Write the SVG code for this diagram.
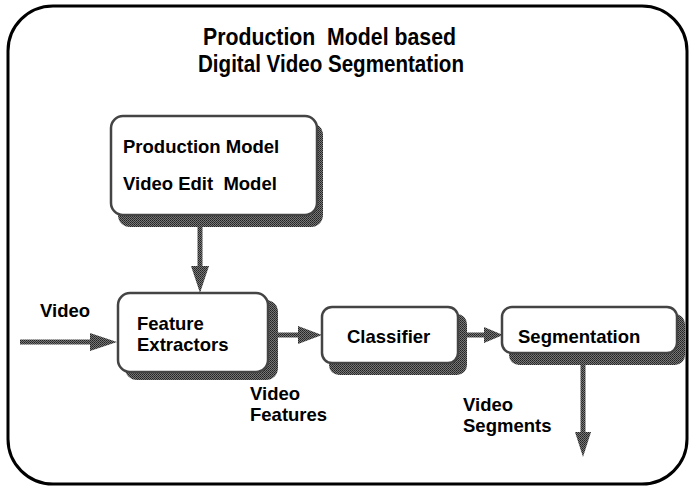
<svg xmlns="http://www.w3.org/2000/svg" width="693" height="490" viewBox="0 0 693 490">
  <style>
    text { font-family: "Liberation Sans", Arial, sans-serif; font-weight: bold; fill: #000; white-space: pre; }
    .title { font-size: 24px; }
    .lbl { font-size: 18.5px; }
    .box { fill: #fff; stroke: #444; stroke-width: 2.5; }
    .shadow { fill: url(#dither); }
    .wire { stroke: url(#dither); stroke-width: 5; fill: none; }
    .head { fill: url(#dither); }
  </style>
  <defs>
    <!-- halftone-like grey used for shadows and arrows -->
    <pattern id="dither" width="2" height="2" patternUnits="userSpaceOnUse">
      <rect width="2" height="2" fill="#777"/>
      <rect width="1" height="1" fill="#222"/>
      <rect x="1" y="1" width="1" height="1" fill="#333"/>
    </pattern>
  </defs>

  <!-- outer frame -->
  <rect x="8" y="6" width="679" height="478" rx="45" ry="45" fill="#fff" stroke="#000" stroke-width="3"/>

  <g id="title">
    <text class="title" x="203" y="45" textLength="253" lengthAdjust="spacingAndGlyphs">Production  Model based</text>
    <text class="title" x="198" y="72" textLength="266" lengthAdjust="spacingAndGlyphs">Digital Video Segmentation</text>
  </g>

  <!-- connectors -->
  <g id="connectors">
    <line class="wire" x1="200" y1="225" x2="200" y2="270"/>
    <polygon class="head" points="191,266 209,266 200,293"/>
    <line class="wire" x1="20" y1="342" x2="95" y2="342"/>
    <polygon class="head" points="90,333 90,351 117,342"/>
    <line class="wire" x1="278" y1="335" x2="302" y2="335"/>
    <polygon class="head" points="298,326 298,344 322,335"/>
    <line class="wire" x1="467" y1="335" x2="487" y2="335"/>
    <polygon class="head" points="484,327 484,343 503,335"/>
    <line class="wire" x1="583" y1="362" x2="583" y2="436"/>
    <polygon class="head" points="575,432 591,432 583,457"/>
  </g>

  <g id="production-model">
    <rect class="shadow" x="118" y="123" width="205" height="104" rx="12"/>
    <rect class="box" x="111" y="116" width="206" height="99" rx="12"/>
    <text class="lbl" x="123" y="153">Production Model</text>
    <text class="lbl" x="123" y="190">Video Edit  Model</text>
  </g>

  <g id="feature-extractors">
    <rect class="shadow" x="125" y="300" width="153" height="80" rx="12"/>
    <rect class="box" x="118" y="293" width="150" height="79" rx="12"/>
    <text class="lbl" x="137" y="330">Feature</text>
    <text class="lbl" x="137" y="351">Extractors</text>
  </g>

  <g id="classifier">
    <rect class="shadow" x="329" y="314" width="138" height="61" rx="10"/>
    <rect class="box" x="322" y="307" width="136" height="56" rx="10"/>
    <text class="lbl" x="347" y="343">Classifier</text>
  </g>

  <g id="segmentation">
    <rect class="shadow" x="509" y="314" width="176" height="51" rx="10"/>
    <rect class="box" x="502" y="307" width="175" height="46" rx="10"/>
    <text class="lbl" x="518" y="343">Segmentation</text>
  </g>

  <g id="labels">
    <text class="lbl" x="40" y="317">Video</text>
    <text class="lbl" x="250" y="400">Video</text>
    <text class="lbl" x="250" y="421">Features</text>
    <text class="lbl" x="463" y="411">Video</text>
    <text class="lbl" x="463" y="432">Segments</text>
  </g>
</svg>
